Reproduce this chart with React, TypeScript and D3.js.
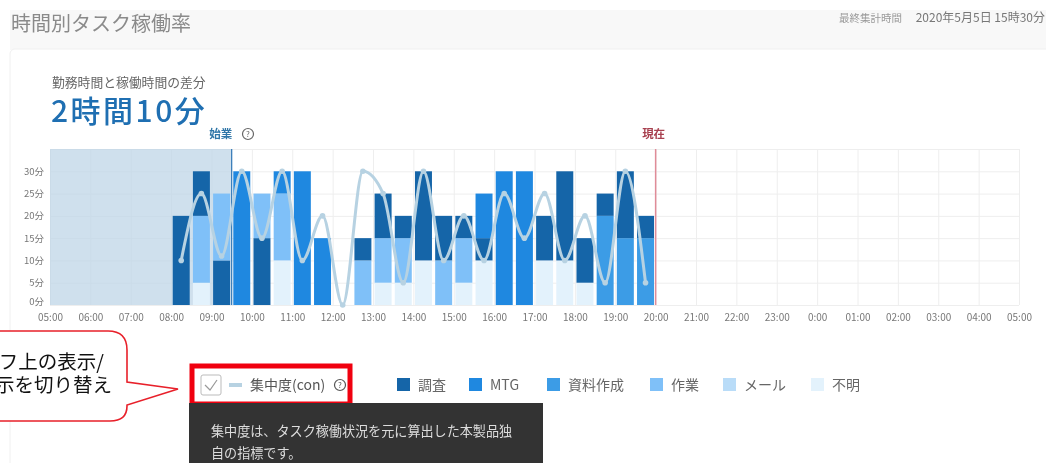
import * as d3 from 'd3';
import { useEffect, useRef } from 'react';

const WIDTH = 1046;
const HEIGHT = 463;
const FONT = '"Noto Sans CJK JP", "Noto Sans", sans-serif';

const hourLabels = [
  '05:00', '06:00', '07:00', '08:00', '09:00', '10:00', '11:00', '12:00', '13:00',
  '14:00', '15:00', '16:00', '17:00', '18:00', '19:00', '20:00', '21:00', '22:00',
  '23:00', '0:00', '01:00', '02:00', '03:00', '04:00', '05:00',
];
const minuteTicks = [0, 5, 10, 15, 20, 25, 30];

const tasks = ['調査', 'MTG', '資料作成', '作業', 'メール', '不明'];
const taskColors = ['#1565a8', '#1f88e0', '#3c9ce6', '#7fc0f8', '#b9dcf8', '#e3f2fc'];

// half-hour slots starting at 08:00 (hours since 05:00)
const slotStarts = [
  3, 3.5, 4, 4.5, 5, 5.5, 6, 6.5, 7, 7.5, 8, 8.5, 9, 9.5, 10, 10.5, 11, 11.5, 12,
  12.5, 13, 13.5, 14, 14.5,
];

// each slot, bottom to top: [task index, minutes]
const slotSegments: [number, number][][] = [
  [[0, 20]],
  [[5, 5], [3, 15], [0, 10]],
  [[0, 10], [3, 15]],
  [[1, 30]],
  [[0, 15], [3, 10]],
  [[5, 10], [3, 15], [1, 5]],
  [[1, 30]],
  [[1, 15]],
  [],
  [[3, 10], [0, 5]],
  [[5, 5], [3, 10], [0, 10]],
  [[5, 5], [3, 10], [0, 5]],
  [[5, 10], [0, 20]],
  [[3, 10], [0, 10]],
  [[5, 5], [3, 10], [0, 5]],
  [[5, 10], [0, 5], [1, 10]],
  [[1, 30]],
  [[1, 30]],
  [[5, 10], [0, 10]],
  [[5, 10], [0, 20]],
  [[5, 5], [0, 10]],
  [[2, 20], [0, 5]],
  [[2, 15], [0, 15]],
  [[2, 15], [0, 5]],
];

const concentration = [
  10, 25, 11, 30, 15, 30, 10, 20, 0, 30, 25, 5, 30, 10, 20, 10, 25, 15, 25, 10, 20, 5, 30, 5,
];

const startHour = 4.5; // 09:30
const nowHour = 15; // 20:00

const App = () => {
  const svgRef = useRef<SVGSVGElement>(null);

  useEffect(() => {
    if (!svgRef.current) {
      return;
    }
    const svg = d3.select(svgRef.current);
    svg.selectAll('*').remove();

    const xScale = d3.scaleLinear().domain([0, 24]).range([50, 1019]);
    const yScale = d3.scaleLinear().domain([0, 35]).range([305, 149]);
    const slotWidth = xScale(0.5) - xScale(0);
    const barWidth = slotWidth - 3.2;

    // Page background
    svg.append('rect').attr('width', WIDTH).attr('height', HEIGHT).attr('fill', '#fff');
    svg.append('rect').attr('x', 10).attr('y', 10).attr('width', WIDTH - 10).attr('height', 40).attr('fill', '#f8f8f8');
    svg.append('rect').attr('x', 10).attr('y', 49).attr('width', WIDTH).attr('height', HEIGHT).attr('rx', 5)
      .attr('fill', '#fff').attr('stroke', '#f0f0f0');

    svg.append('text').attr('x', 11).attr('y', 31).attr('font-size', 20).attr('fill', '#8a8a8a').text('時間別タスク稼働率');
    svg.append('text').attr('x', 839).attr('y', 22).attr('font-size', 10.5).attr('fill', '#999').text('最終集計時間');
    svg.append('text').attr('x', 1045).attr('y', 22).attr('text-anchor', 'end').attr('font-size', 12).attr('fill', '#777')
      .text('2020年5月5日 15時30分');
    svg.append('text').attr('x', 52).attr('y', 87).attr('font-size', 12.8).attr('fill', '#666').text('勤務時間と稼働時間の差分');
    svg.append('text').attr('x', 51).attr('y', 122).attr('font-size', 30).attr('letter-spacing', 2.5).attr('font-weight', 500)
      .attr('fill', '#1f6fb2').text('2時間10分');

    // Grid
    const g = svg.append('g');
    g.append('g')
      .attr('transform', `translate(0,${yScale(0)})`)
      .call(d3.axisBottom(xScale).tickValues(d3.range(0, 25)).tickSize(yScale(35) - yScale(0)).tickFormat(() => ''))
      .call((axis) => axis.select('.domain').remove())
      .call((axis) => axis.selectAll('.tick line').attr('stroke', '#eeeeee'));
    g.append('g')
      .attr('transform', `translate(0,${yScale(0)})`)
      .call(d3.axisBottom(xScale).tickValues(d3.range(0, 25)).tickSize(0).tickPadding(9)
        .tickFormat((_, i) => hourLabels[i]))
      .call((axis) => axis.select('.domain').remove())
      .call((axis) => axis.selectAll('.tick text').attr('fill', '#777').attr('font-size', 10).attr('font-family', FONT));
    g.append('g')
      .attr('transform', `translate(${xScale(0)},0)`)
      .call(d3.axisLeft(yScale).tickValues([...minuteTicks, 35]).tickSize(-(xScale(24) - xScale(0))).tickPadding(6)
        .tickFormat((d) => (+d === 35 ? '' : `${d}分`)))
      .call((axis) => axis.select('.domain').remove())
      .call((axis) => axis.selectAll('.tick line').attr('stroke', '#eeeeee'))
      .call((axis) => axis.selectAll('.tick text').attr('fill', '#777').attr('font-size', 9.5).attr('font-family', FONT)
        .attr('dy', (d) => (+(d as number) === 0 ? '-0.05em' : '0.32em')));

    // Before-start shading
    svg.append('rect').attr('x', xScale(0)).attr('y', yScale(35))
      .attr('width', xScale(startHour) - xScale(0)).attr('height', yScale(0) - yScale(35))
      .attr('fill', '#bcd4e6').attr('opacity', 0.72);

    // Bars
    slotSegments.forEach((segments, i) => {
      const tops = d3.cumsum(segments, (s) => s[1]);
      svg.append('g').selectAll('rect').data(segments).join('rect')
        .attr('x', xScale(slotStarts[i]) + 1.6)
        .attr('width', barWidth)
        .attr('y', (_, j) => yScale(tops[j]))
        .attr('height', (d) => yScale(0) - yScale(d[1]))
        .attr('fill', (d) => taskColors[d[0]]);
    });

    // Start / now markers
    svg.append('line').attr('x1', xScale(startHour)).attr('x2', xScale(startHour)).attr('y1', yScale(35)).attr('y2', yScale(0))
      .attr('stroke', '#2f76b5').attr('stroke-width', 1.2);
    svg.append('line').attr('x1', xScale(nowHour)).attr('x2', xScale(nowHour)).attr('y1', yScale(35)).attr('y2', yScale(0))
      .attr('stroke', '#e08c98').attr('stroke-width', 1.5);
    svg.append('text').attr('x', xScale(startHour)).attr('y', 138).attr('text-anchor', 'middle').attr('font-size', 11.5)
      .attr('font-weight', 700).attr('fill', '#2f76a8').attr('dx', -11).text('始業');
    svg.append('circle').attr('cx', 248).attr('cy', 134).attr('r', 5.5).attr('fill', 'none').attr('stroke', '#666').attr('stroke-width', 1.2);
    svg.append('text').attr('x', 248).attr('y', 137).attr('text-anchor', 'middle').attr('font-size', 8).attr('fill', '#666').text('?');
    svg.append('text').attr('x', xScale(nowHour) - 2).attr('y', 138).attr('text-anchor', 'middle').attr('font-size', 11.5)
      .attr('font-weight', 700).attr('fill', '#a8404f').text('現在');

    // Concentration line
    const lineX = (i: number) => xScale(slotStarts[i]) + slotWidth / 2;
    const line = d3.line<number>().x((_, i) => lineX(i)).y((d) => yScale(d)).curve(d3.curveMonotoneX);
    svg.append('path').attr('d', line(concentration)).attr('fill', 'none').attr('stroke', '#b7d2e2').attr('stroke-width', 3);
    svg.append('g').selectAll('circle').data(concentration).join('circle')
      .attr('cx', (_, i) => lineX(i)).attr('cy', (d) => yScale(d)).attr('r', 2.8).attr('fill', '#b7d2e2');

    // Legend
    const legendX = [397, 469, 547, 650, 723, 811];
    const legend = svg.append('g').selectAll('g').data(tasks).join('g')
      .attr('transform', (_, i) => `translate(${legendX[i]},378)`);
    legend.append('rect').attr('width', 13).attr('height', 13).attr('fill', (_, i) => taskColors[i]);
    legend.append('text').attr('x', 21).attr('y', 12).attr('font-size', 14).attr('fill', '#666').text((d) => d);

    // Concentration toggle
    svg.append('rect').attr('x', 192).attr('y', 366).attr('width', 158).attr('height', 38).attr('fill', '#fff')
      .attr('stroke', '#f0000f').attr('stroke-width', 5);
    svg.append('rect').attr('x', 201).attr('y', 375).attr('width', 20).attr('height', 20).attr('rx', 2)
      .attr('fill', '#fff').attr('stroke', '#bbb');
    svg.append('path').attr('d', 'M205 385 L210 390 L217 380').attr('fill', 'none').attr('stroke', '#999').attr('stroke-width', 1.2);
    svg.append('rect').attr('x', 229).attr('y', 383).attr('width', 13).attr('height', 4).attr('fill', '#b7d2e2');
    svg.append('text').attr('x', 250).attr('y', 390).attr('font-size', 14).attr('fill', '#555').text('集中度(con)');
    svg.append('circle').attr('cx', 340).attr('cy', 385).attr('r', 5.5).attr('fill', 'none').attr('stroke', '#555').attr('stroke-width', 1.2);
    svg.append('text').attr('x', 340).attr('y', 388).attr('text-anchor', 'middle').attr('font-size', 8).attr('fill', '#555').text('?');

    // Tooltip
    svg.append('rect').attr('x', 189).attr('y', 403).attr('width', 354).attr('height', 60).attr('fill', '#333');
    svg.append('text').attr('x', 211).attr('y', 436).attr('font-size', 13.1).attr('fill', '#ddd').text('集中度は、タスク稼働状況を元に算出した本製品独');
    svg.append('text').attr('x', 211).attr('y', 458).attr('font-size', 13.1).attr('fill', '#ddd').text('自の指標です。');

    // Callout
    svg.append('path')
      .attr('d', 'M-10 331 H108 Q127 331 127 350 V382 L178 389 L127 405 V406 Q127 421 110 421 H-10 Z')
      .attr('fill', '#fff').attr('stroke', '#e8202a').attr('stroke-width', 1.6);
    svg.append('text').attr('x', 104).attr('y', 369).attr('text-anchor', 'end').attr('font-size', 19.5)
      .attr('fill', '#111').text('フ上の表示/');
    svg.append('text').attr('x', 112).attr('y', 392).attr('text-anchor', 'end').attr('font-size', 19.5)
      .attr('fill', '#111').text('示を切り替え');
  }, []);

  return (
    <svg
      ref={svgRef}
      width={WIDTH}
      height={HEIGHT}
      viewBox={`0 0 ${WIDTH} ${HEIGHT}`}
      style={{ position: 'absolute', left: 0, top: 0, fontFamily: FONT, filter: 'blur(0.4px)' }}
    />
  );
};

export default App;
